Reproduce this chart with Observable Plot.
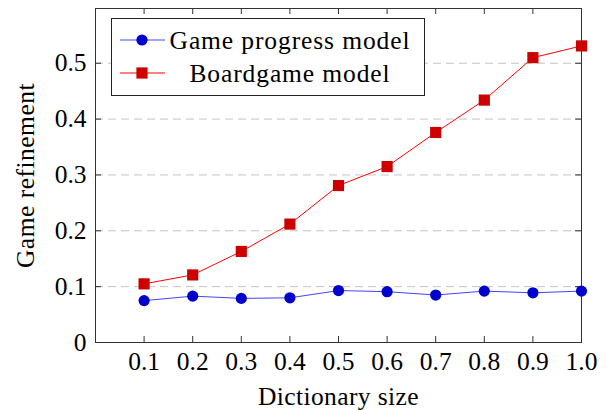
<!DOCTYPE html>
<html><head><meta charset="utf-8">
<script src="https://cdn.jsdelivr.net/npm/d3@7"></script>
<script src="https://cdn.jsdelivr.net/npm/@observablehq/plot@0.6"></script>
<style>body{margin:0;background:#fff;}</style>
</head><body><div id="chart"></div>
<script>
const dictSize = [0.1,0.2,0.3,0.4,0.5,0.6,0.7,0.8,0.9,1.0];
const gameProgress = [0.075,0.083,0.079,0.080,0.093,0.091,0.085,0.092,0.089,0.092];
const boardgame = [0.105,0.121,0.163,0.212,0.281,0.315,0.376,0.434,0.510,0.531];
const yTicks = [0,0.1,0.2,0.3,0.4,0.5];
const seriesNames = ["Game progress model","Boardgame model"];
const xLabel = "Dictionary size";
const yLabel = "Game refinement";

const xDomain = [0, 1.0];
const yDomain = [0, 0.598];

const blueLine = "#4444ff", blueMark = "#0000cc";
const redLine = "#ff0000", redMark = "#cc0000";
const FONT = "'Liberation Serif', 'DejaVu Serif', serif";
const FS = 25.5;

const rowsA = dictSize.map((x,i)=>({x, y: gameProgress[i]}));
const rowsB = dictSize.map((x,i)=>({x, y: boardgame[i]}));
const fmt = d => d === 0 ? "0" : d.toFixed(1);
const axisColor = "#333";

const plot = Plot.plot({
  width: 610, height: 410,
  marginLeft: 95, marginRight: 29, marginTop: 8, marginBottom: 68,
  style: {fontFamily: FONT, fontSize: FS + "px", color: "#000", background: "#fff"},
  x: {domain: xDomain},
  y: {domain: yDomain},
  marks: [
    Plot.ruleY(yTicks.filter(d => d > 0), {y: d => d, stroke: "#c4c4c4", strokeDasharray: "8,5"}),
    // inward ticks
    Plot.ruleX(dictSize, {x: d => d, y1: yDomain[0], y2: yDomain[0], insetTop: -6, stroke: axisColor}),
    Plot.ruleX(dictSize, {x: d => d, y1: yDomain[1], y2: yDomain[1], insetBottom: -6, stroke: axisColor}),
    Plot.ruleY(yTicks, {y: d => d, x1: xDomain[0], x2: xDomain[0], insetRight: -6, stroke: axisColor}),
    Plot.ruleY(yTicks, {y: d => d, x1: xDomain[1], x2: xDomain[1], insetLeft: -6, stroke: axisColor}),
    Plot.axisX(dictSize, {tickSize: 0, tickPadding: 9, tickFormat: d => d.toFixed(1), label: null, fontSize: FS}),
    Plot.axisY(yTicks, {tickSize: 0, tickPadding: 9, tickFormat: fmt, label: null, fontSize: FS}),
    Plot.frame({stroke: axisColor, strokeWidth: 1}),
    Plot.line(rowsA, {x: "x", y: "y", stroke: blueLine, strokeWidth: 1}),
    Plot.dot(rowsA, {x: "x", y: "y", r: 5.6, fill: blueMark, stroke: "none"}),
    Plot.line(rowsB, {x: "x", y: "y", stroke: redLine, strokeWidth: 1}),
    Plot.dot(rowsB, {x: "x", y: "y", r: 6.3, symbol: "square", fill: redMark, stroke: "none"}),
    Plot.text([xLabel], {frameAnchor: "bottom", dy: 54, lineAnchor: "middle", textAnchor: "middle", fontSize: FS, className: "xlab"}),
    Plot.text([yLabel], {frameAnchor: "left", dx: -70, rotate: -90, textAnchor: "middle", lineAnchor: "middle", fontSize: FS, className: "ylab"})
  ]
});
document.getElementById("chart").appendChild(plot);

const svg = d3.select(plot);
svg.selectAll(".xlab text").attr("letter-spacing", "0.4px");
svg.selectAll(".ylab text").attr("letter-spacing", "0.5px");

// legend inside the plot area
const lx = 111, ly = 18, lw = 313, lh = 77;
const g = svg.append("g");
g.append("rect").attr("x", lx + 0.5).attr("y", ly + 0.5).attr("width", lw).attr("height", lh)
  .attr("fill", "#fff").attr("stroke", "#222").attr("stroke-width", 1);
const items = [
  {name: seriesNames[0], line: blueLine, mark: blueMark, sym: "circle"},
  {name: seriesNames[1], line: redLine, mark: redMark, sym: "square"}
];
items.forEach((it, i) => {
  const cy = ly + 22 + i * 33;
  g.append("line").attr("x1", lx + 9).attr("x2", lx + 54).attr("y1", cy).attr("y2", cy)
    .attr("stroke", it.line).attr("stroke-width", 1);
  if (it.sym === "circle") {
    g.append("circle").attr("cx", lx + 31).attr("cy", cy).attr("r", 5.6).attr("fill", it.mark);
  } else {
    g.append("rect").attr("x", lx + 31 - 5.6).attr("y", cy - 5.6).attr("width", 11.2).attr("height", 11.2).attr("fill", it.mark);
  }
  g.append("text").attr("x", lx + 179).attr("y", cy).attr("dy", "0.35em")
    .attr("text-anchor", "middle")
    .attr("font-family", FONT).attr("font-size", FS)
    .attr("letter-spacing", "0.9px")
    .attr("fill", "#000").text(it.name);
});
</script>
</body></html>
